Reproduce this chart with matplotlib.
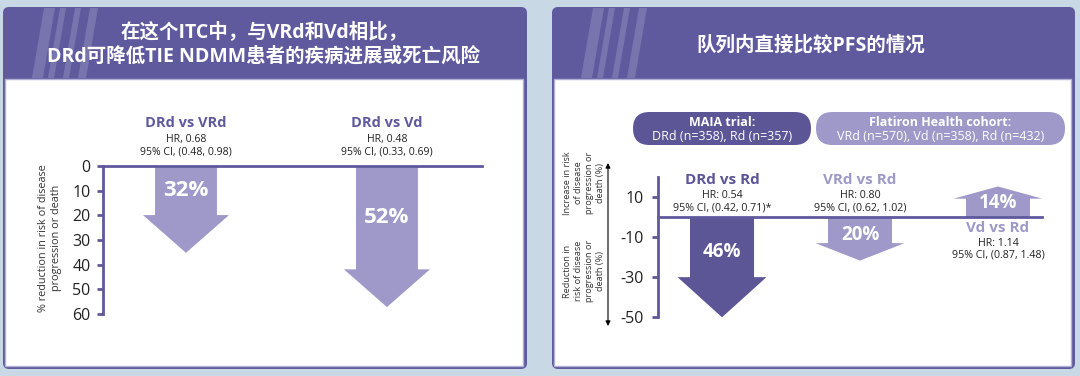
import matplotlib
matplotlib.use("Agg")
import matplotlib.pyplot as plt
from matplotlib.patches import FancyBboxPatch, Polygon, Rectangle

plt.rcParams['font.family'] = ['Open Sans', 'Noto Sans CJK SC', 'DejaVu Sans']
plt.rcParams['axes.unicode_minus'] = False

# ---------------- data ----------------
left_title = ["在这个ITC中，与VRd和Vd相比，", "DRd可降低TIE NDMM患者的疾病进展或死亡风险"]
right_title = "队列内直接比较PFS的情况"

left_comparisons = ["DRd vs VRd", "DRd vs Vd"]
left_hr = ["HR, 0.68", "HR, 0.48"]
left_ci = ["95% CI, (0.48, 0.98)", "95% CI, (0.33, 0.69)"]
left_reduction = [32, 52]
left_ticks = [0, 10, 20, 30, 40, 50, 60]
left_ylabel = "% reduction in risk of disease\nprogression or death"

right_comparisons = ["DRd vs Rd", "VRd vs Rd", "Vd vs Rd"]
right_hr = ["HR: 0.54", "HR: 0.80", "HR: 1.14"]
right_ci = ["95% CI, (0.42, 0.71)*", "95% CI, (0.62, 1.02)", "95% CI, (0.87, 1.48)"]
right_change = [-46, -20, 14]
right_ticks = [10, -10, -30, -50]
cohort_titles = ["MAIA trial:", "Flatiron Health cohort:"]
cohort_details = ["DRd (n=358), Rd (n=357)", "VRd (n=570), Vd (n=358), Rd (n=432)"]
right_up_label = "Increase in risk\nof disease\nprogression or\ndeath (%)"
right_down_label = "Reduction in\nrisk of disease\nprogression or\ndeath (%)"

# ---------------- style ----------------
PURPLE = '#5f5a9e'
DARK = '#5c5596'
LIGHT = '#9e99c8'
BG = '#c8d8e4'
TXT = '#222222'
right_colors = [DARK, LIGHT, LIGHT]

W, H = 1080, 376
fig = plt.figure(figsize=(W / 100, H / 100), dpi=100)
fig.patch.set_facecolor(BG)

bg = fig.add_axes([0, 0, 1, 1])
bg.set_xlim(0, W)
bg.set_ylim(H, 0)
bg.axis('off')


def px_axes(x0, y0, x1, y1):
    ax = fig.add_axes([x0 / W, 1 - y1 / H, (x1 - x0) / W, (y1 - y0) / H])
    ax.set_facecolor('none')
    return ax


def panel(x0, y0, x1, y1, stripe_x):
    bg.add_patch(FancyBboxPatch((x0, y0), x1 - x0, y1 - y0,
                                boxstyle="round,pad=0,rounding_size=6",
                                fc=PURPLE, ec='none', zorder=1))
    bg.add_patch(Rectangle((x0 + 1.5, 79), x1 - x0 - 5.5, y1 - 79 - 3.5,
                           fc='white', ec='#b3afd6', lw=1.0, zorder=2))
    widths = [11, 6, 6, 8]
    offs = [0, 16, 31, 46]
    for o, w in zip(offs, widths):
        bx = stripe_x + o
        bg.add_patch(Polygon([(bx, 78), (bx + w, 78), (bx + w + 12, y0 + 1), (bx + 12, y0 + 1)],
                             closed=True, fc='white', alpha=0.16, ec='none', zorder=2))


panel(3, 7, 527, 369, 32)
panel(552, 7, 1075, 369, 581)

# titles
bg.text(264, 32, left_title[0], ha='center', va='center', color='white',
        fontsize=14, fontweight='bold', zorder=5)
bg.text(264, 57, left_title[1], ha='center', va='center', color='white',
        fontsize=14, fontweight='bold', zorder=5)
bg.text(811, 45, right_title, ha='center', va='center', color='white',
        fontsize=14, fontweight='bold', zorder=5)


def arrow(ax, x, v, tip_k, head_len, shaft_hw, head_hw, color):
    sign = 1 if v > 0 else -1
    tip = v * tip_k
    base = tip - sign * head_len
    pts = [(x - shaft_hw, 0), (x + shaft_hw, 0), (x + shaft_hw, base), (x + head_hw, base),
           (x, tip), (x - head_hw, base), (x - shaft_hw, base)]
    ax.add_patch(Polygon(pts, closed=True, fc=color, ec='none', clip_on=False, zorder=2))
    return base


# ---------------- left chart ----------------
axL = px_axes(103, 166, 482, 314)
axL.set_zorder(3)
axL.set_xlim(-0.413, 1.473)
axL.set_ylim(60, 0)
for s in ['top', 'right', 'bottom']:
    axL.spines[s].set_visible(False)
axL.spines['left'].set_color(PURPLE)
axL.spines['left'].set_linewidth(2)
axL.set_xticks([])
axL.set_yticks(left_ticks)
axL.tick_params(axis='y', length=4, width=2, color=PURPLE, pad=5, labelsize=11.5, labelcolor=TXT)
axL.axhline(0, color=PURPLE, lw=2, clip_on=False, zorder=3)

for i, v in enumerate(left_reduction):
    base = arrow(axL, i, v, 1.1, 15.3, 0.154, 0.214, LIGHT)
    axL.text(i, base / 2, f"{v}%", ha='center', va='center', color='white',
             fontsize=16, fontweight='bold', zorder=4)
    axL.text(i, -17.4, left_comparisons[i], ha='center', va='center', color=PURPLE,
             fontsize=10.5, fontweight='bold', clip_on=False)
    axL.text(i, -10.9, left_hr[i], ha='center', va='center', color=TXT, fontsize=7.6, clip_on=False)
    axL.text(i, -5.7, left_ci[i], ha='center', va='center', color=TXT, fontsize=7.6, clip_on=False)

bg.text(50, 238, left_ylabel, rotation=90, ha='center', va='center', fontsize=7.8,
        color='#333333', linespacing=1.35, zorder=5)

# ---------------- right chart ----------------
axR = px_axes(658, 177, 1042, 317)
axR.set_zorder(3)
axR.set_xlim(-0.464, 2.319)
axR.set_ylim(-50, 20)
for s in ['top', 'right', 'bottom']:
    axR.spines[s].set_visible(False)
axR.spines['left'].set_color(PURPLE)
axR.spines['left'].set_linewidth(2)
axR.set_xticks([])
axR.set_yticks(right_ticks)
axR.tick_params(axis='y', length=4, width=2, color=PURPLE, pad=6, labelsize=11.5, labelcolor=TXT)
axR.axhline(0, color=PURPLE, lw=2, clip_on=False, zorder=3)

for i, v in enumerate(right_change):
    tip = abs(v) * 1.09
    base = arrow(axR, i, v, 1.09, 0.4 * tip, 0.232, 0.322, right_colors[i])
    sign = 1 if v > 0 else -1
    axR.text(i, base / 2 + sign * 2.5, f"{abs(v)}%", ha='center', va='center', color='white',
             fontsize=13.5, fontweight='bold', zorder=4)
    if v < 0:
        ys = [18.5, 11, 4.5]
    else:
        ys = [-5.5, -13, -19]
    axR.text(i, ys[0], right_comparisons[i], ha='center', va='center', color=right_colors[i],
             fontsize=11, fontweight='bold', clip_on=False)
    axR.text(i, ys[1], right_hr[i], ha='center', va='center', color=TXT, fontsize=7.7, clip_on=False)
    axR.text(i, ys[2], right_ci[i], ha='center', va='center', color=TXT, fontsize=7.7, clip_on=False)

# cohort pills
pills = [(633, 811, DARK), (816, 1065, LIGHT)]
for (x0, x1, c), t, d in zip(pills, cohort_titles, cohort_details):
    bg.add_patch(FancyBboxPatch((x0, 112), x1 - x0, 33, boxstyle="round,pad=0,rounding_size=16.5",
                                fc=c, ec='none', zorder=3))
    bg.text((x0 + x1) / 2, 122, t, ha='center', va='center', color='white', fontsize=9,
            fontweight='bold', zorder=5)
    bg.text((x0 + x1) / 2, 136, d, ha='center', va='center', color='white', fontsize=9, zorder=5)

# right axis side labels
bg.annotate('', xy=(608, 163), xytext=(608, 326),
            arrowprops=dict(arrowstyle='<|-|>', color='black', lw=0.8, mutation_scale=7,
                            shrinkA=0, shrinkB=0), zorder=5)
bg.text(584, 183, right_up_label, rotation=90, ha='center', va='center', fontsize=6.6,
        color='#333333', linespacing=1.25, zorder=5)
bg.text(584, 271, right_down_label, rotation=90, ha='center', va='center', fontsize=6.6,
        color='#333333', linespacing=1.25, zorder=5)

fig.savefig('out.png', dpi=100, facecolor=BG)
